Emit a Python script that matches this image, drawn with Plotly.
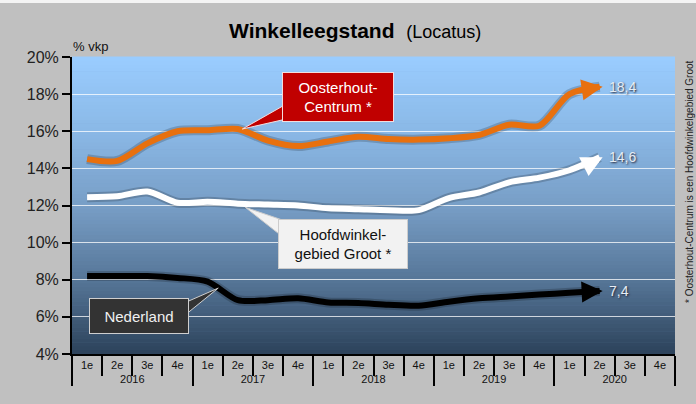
import plotly.graph_objects as go

# ---------------- data ----------------
years = ["2016", "2017", "2018", "2019", "2020"]
quarters = ["1e", "2e", "3e", "4e"]

oosterhout = [14.5, 14.4, 15.35, 16.0, 16.05, 16.12, 15.5, 15.2, 15.45, 15.7,
              15.58, 15.55, 15.62, 15.8, 16.35, 16.3, 18.0, 18.4]
hoofdwinkel = [12.45, 12.5, 12.75, 12.15, 12.2, 12.1, 12.05, 12.0, 11.85, 11.8,
               11.75, 11.75, 12.4, 12.7, 13.25, 13.5, 13.9, 14.6]
nederland = [8.2, 8.2, 8.2, 8.1, 7.9, 6.9, 6.9, 7.0, 6.78, 6.75,
             6.65, 6.6, 6.82, 7.0, 7.1, 7.2, 7.3, 7.4]

end_labels = ["18,4", "14,6", "7,4"]
y_ticks = [4, 6, 8, 10, 12, 14, 16, 18, 20]
y_ticktext = [f"{v}%" for v in y_ticks]

# ---------------- build ----------------
x_outer = [y for y in years for q in quarters]
x_inner = [q for y in years for q in quarters]
n_all = len(x_outer)

L, R, T, B = 72, 675, 57, 354
W, H = R - L, B - T


def px(x):
    return (x - L) / W


def py(y):
    return (B - y) / H


def pad(vals):
    return list(vals) + [None] * (n_all - len(vals))


fig = go.Figure()

fig.add_trace(go.Scatter(x=[x_outer, x_inner], y=[None] * n_all, mode="lines",
                         showlegend=False, hoverinfo="skip"))

series = [
    (oosterhout, "#e8700e", "Oosterhout-Centrum"),
    (hoofdwinkel, "#ffffff", "Hoofdwinkelgebied Groot"),
    (nederland, "#000000", "Nederland"),
]
for vals, col, name in series:
    fig.add_trace(go.Scatter(x=[x_outer, x_inner], y=pad(vals), mode="lines",
                             line=dict(color="rgba(0,0,0,0.18)", width=10,
                                       shape="spline", smoothing=0.8),
                             showlegend=False, hoverinfo="skip"))
for vals, col, name in series:
    fig.add_trace(go.Scatter(x=[x_outer, x_inner], y=pad(vals), mode="lines",
                             name=name,
                             line=dict(color=col, width=6, shape="spline",
                                       smoothing=0.8),
                             showlegend=False))

fig.add_trace(go.Scatter(x=[0], y=[None], xaxis="x2", showlegend=False,
                         hoverinfo="skip"))


def lerp(c1, c2, t):
    return tuple(round(a + (b - a) * t) for a, b in zip(c1, c2))


stops = [(0.0, (44, 66, 90)), (0.25, (86, 118, 152)), (0.5, (120, 158, 198)),
         (0.75, (138, 184, 230)), (1.0, (154, 205, 255))]
shapes = []
N = 80
for i in range(N):
    fm = (i + 0.5) / N
    for (a, ca), (b, cb) in zip(stops[:-1], stops[1:]):
        if a <= fm <= b:
            c = lerp(ca, cb, (fm - a) / (b - a))
            break
    shapes.append(dict(type="rect", xref="paper", yref="paper", x0=0, x1=1,
                       y0=i / N, y1=(i + 1) / N + 0.002, line=dict(width=0),
                       fillcolor="rgb(%d,%d,%d)" % c, layer="below"))
shapes.append(dict(type="rect", xref="paper", yref="paper", x0=px(-5), x1=px(700),
                   y0=py(3), y1=py(-5), line=dict(width=0),
                   fillcolor="#f4f4f4", layer="below"))

fnt = "Liberation Sans, Arial"
annotations = []
end_shift = [(-20, 3), (-20, 10), (-20, 1)]
for (vals, col, name), (ax, ay), lab in zip(series, end_shift, end_labels):
    i = len(vals) - 1
    annotations.append(dict(x=i, y=vals[i], xref="x2", yref="y", text="",
                            showarrow=True, arrowhead=2, arrowsize=0.7,
                            arrowwidth=6, arrowcolor=col, ax=ax, ay=ay,
                            xshift=3, standoff=0))
    annotations.append(dict(x=i, y=vals[i], xref="x2", yref="y", text=lab,
                            showarrow=False, xanchor="left", xshift=7,
                            font=dict(size=14, color="#e6edf5", family=fnt,
                                      shadow="1px 1px 2px #223")))

# callouts: wedge (pixel-sized path anchored at the line) + box
callouts = [
    # (x index, y value, text, box dx, box dy (up), w, h, fill, border, textcol, wedge path)
    (5.15, oosterhout[5], "Oosterhout-<br>Centrum *", 96, 32, 104, 42,
     "#c00000", "#f3dede", "white", "M0,0 L44,25 L44,10 Z"),
    (5.25, hoofdwinkel[5] - 0.2, "Hoofdwinkel-<br>gebied Groot *", 98, -37, 122, 42,
     "#f2f2f2", "#cccccc", "#111111", "M0,0 L38,-13 L38,-30 Z"),
    (4.35, nederland[4] + 0.35 * (nederland[5] - nederland[4]), "Nederland",
     -79, -28, 92, 28, "#333333", "#cfcfcf", "#f0f0f0", "M0,0 L-32,-14 L-32,-26 Z"),
]
for xi, yv, txt, dx, dy, w, h, fill, border, tcol, path in callouts:
    shapes.append(dict(type="path", xref="x2", yref="y", xsizemode="pixel",
                       ysizemode="pixel", xanchor=xi, yanchor=yv, path=path,
                       fillcolor=fill, line=dict(color=border, width=1),
                       layer="above"))
    annotations.append(dict(x=xi, y=yv, xref="x2", yref="y", text=txt,
                            showarrow=False, xshift=dx, yshift=dy,
                            width=w, height=h, bgcolor=fill,
                            bordercolor=border, borderwidth=1, borderpad=3,
                            font=dict(size=15, color=tcol, family=fnt)))

annotations.append(dict(x=px(355), y=py(30), xref="paper", yref="paper",
                        text="<b>Winkelleegstand</b>  <span style='font-size:18px'>(Locatus)</span>",
                        showarrow=False, xanchor="center", yanchor="middle",
                        font=dict(size=21, color="black", family=fnt)))
annotations.append(dict(x=px(71), y=py(47), xref="paper", yref="paper",
                        text="% vkp", showarrow=False, xanchor="left",
                        yanchor="middle",
                        font=dict(size=13, color="#111111", family=fnt)))
annotations.append(dict(x=px(689), y=py(181), xref="paper", yref="paper",
                        text="* Oosterhout-Centrum is een Hoofdwinkelgebied Groot",
                        textangle=-90, showarrow=False, xanchor="center",
                        yanchor="middle",
                        font=dict(size=10, color="#222222", family=fnt)))

fig.update_layout(
    width=696, height=404,
    margin=dict(l=L, r=696 - R, t=T, b=404 - B, autoexpand=False),
    paper_bgcolor="#c0c0c0",
    plot_bgcolor="#6f94bb",
    shapes=shapes,
    annotations=annotations,
    font=dict(family=fnt, color="#111111"),
    xaxis=dict(type="multicategory", range=[-0.5, n_all - 0.5],
               showline=True, linecolor="black", linewidth=2,
               ticks="outside", tickson="boundaries", ticklen=20,
               tickwidth=2, tickcolor="black",
               showdividers=True, dividercolor="black", dividerwidth=2,
               showgrid=False, tickfont=dict(size=11, color="#111111"),
               fixedrange=True),
    xaxis2=dict(overlaying="x", range=[-0.5, n_all - 0.5], visible=False,
                fixedrange=True),
    yaxis=dict(range=[4, 20], tickvals=y_ticks, ticktext=y_ticktext,
               showline=True, linecolor="black", linewidth=2,
               ticks="outside", ticklen=8, tickwidth=2, tickcolor="black",
               showgrid=True, gridcolor="rgba(255,255,255,0.75)", gridwidth=1,
               zeroline=False, tickfont=dict(size=16, color="#222222"),
               fixedrange=True),
)

fig.write_html("out.html", config={"displayModeBar": False},
               post_script="document.body.style.margin='0';")
